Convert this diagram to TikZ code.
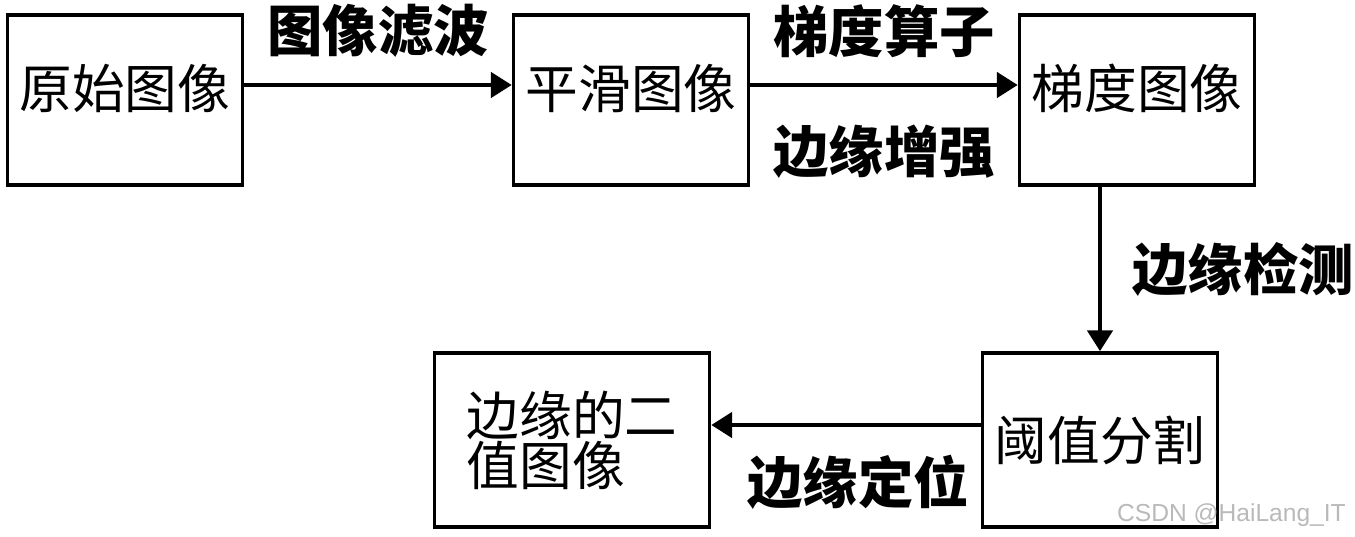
\documentclass[tikz,border=0pt]{standalone}
\usepackage{fontspec}
\setmainfont{Noto Sans CJK SC}
\newfontfamily\markfont{Liberation Sans}
\usetikzlibrary{arrows.meta}

\begin{document}
\begin{tikzpicture}[x=0.02cm, y=-0.02cm,
	box/.style={draw, line width=2pt, minimum width=4.7cm, minimum height=3.4cm, inner sep=0pt, font=\fontsize{30}{28.5}\selectfont},
	topbox/.style={box, text height=0.95cm, text depth=0.6cm},
	flow/.style={line width=2.8pt, -{Triangle[length=0.42cm,width=0.5cm]}},
	lab/.style={font=\fontsize{31.5}{31.5}\selectfont\bfseries, inner sep=0pt}] % pixel grid, y downwards
	
	\useasboundingbox (0,0) rectangle (1355,537);
	
	% Top row of boxes
	\node[topbox] (orig) at (125,100) {原始图像};
	\node[topbox] (smooth) at (631,100) {平滑图像};
	\node[topbox] (grad) at (1137,100) {梯度图像};
	
	% Bottom row of boxes
	\node[box, minimum height=3.48cm] (thresh) at (1100,440) {阈值分割};
	\node[box, minimum width=5.5cm, minimum height=3.48cm, align=left] (binary) at (572,440) {边缘的二\\值图像};
	
	% Flow between the steps
	\draw[flow] ([yshift=0.3cm]orig.east) -- ([yshift=0.3cm]smooth.west)
		node[lab, midway, above=0.5cm] {图像滤波};
	\draw[flow] ([yshift=0.3cm]smooth.east) -- ([yshift=0.3cm]grad.west)
		node[lab, midway, above=0.5cm] {梯度算子}
		node[lab, midway, below=0.75cm] {边缘增强};
	\draw[flow] (grad.south -| thresh.north) -- (thresh.north)
		node[lab, midway, right=0.6cm] {边缘检测};
	\draw[flow] ([yshift=0.3cm]thresh.west) -- ([yshift=0.3cm]binary.east)
		node[lab, midway, xshift=0.24cm, below=0.55cm] {边缘定位};
	
	% Watermark
	\node[text=gray!55, font=\markfont\fontsize{14}{14}\selectfont, anchor=east] (mark) at (1352,515) {CSDN @HaiLang\_IT};
\end{tikzpicture}
\end{document}
